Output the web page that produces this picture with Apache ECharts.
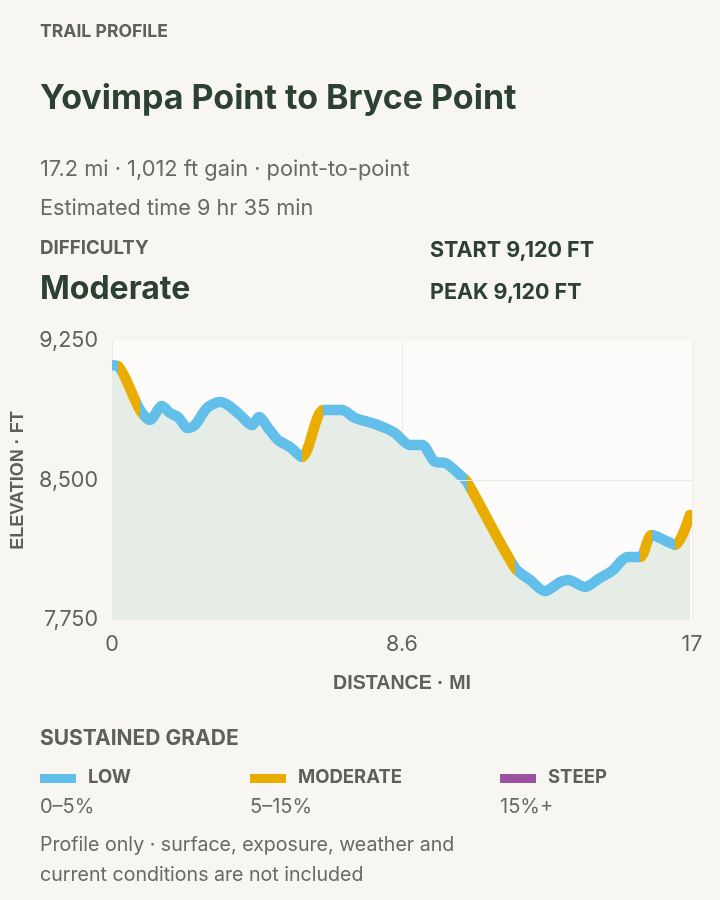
<!DOCTYPE html>
<html><head><meta charset="utf-8">
<script src="https://cdn.jsdelivr.net/npm/echarts@6/dist/echarts.min.js"></script>
<style>
body{margin:0;background:#f7f6f2;font-family:Inter,"Noto Sans",sans-serif;}
#wrap{position:relative;width:720px;height:900px;}
#chart{position:absolute;left:0;top:0;width:720px;height:900px;}
.t{position:absolute;white-space:nowrap;}
.cap{font-weight:700;color:#5d605b;font-size:18.7px;}
.g{color:#676a66;font-size:20px;}
.dk{color:#2d4133;font-weight:700;}
.sw{position:absolute;width:36px;height:9px;top:774px;}
</style></head><body><div id="wrap">
<div id="chart"></div>
<div class="t cap" style="left:40px;top:20px;font-size:17.6px">TRAIL PROFILE</div>
<div class="t dk" style="left:40px;top:76px;font-size:34px">Yovimpa Point to Bryce Point</div>
<div class="t g" style="left:40px;top:155px;font-size:21.8px">17.2 mi · 1,012 ft gain · point-to-point</div>
<div class="t g" style="left:40px;top:194px;font-size:21.7px">Estimated time 9 hr 35 min</div>
<div class="t cap" style="left:40px;top:236px">DIFFICULTY</div>
<div class="t dk" style="left:40px;top:268px;font-size:32px">Moderate</div>
<div class="t dk" style="left:430px;top:236px;font-size:21.5px">START 9,120 FT</div>
<div class="t dk" style="left:430px;top:278px;font-size:21.5px">PEAK 9,120 FT</div>
<div class="t cap" style="left:40px;top:725px;font-size:21px">SUSTAINED GRADE</div>
<div class="sw" style="left:40px;background:#62bfea"></div>
<div class="sw" style="left:250px;background:#e8ad00"></div>
<div class="sw" style="left:500px;background:#9a52a0"></div>
<div class="t cap" style="left:88px;top:765px;font-size:18.5px">LOW</div>
<div class="t cap" style="left:298px;top:765px;font-size:18.5px">MODERATE</div>
<div class="t cap" style="left:548px;top:765px;font-size:18.5px">STEEP</div>
<div class="t g" style="left:40px;top:794px">0–5%</div>
<div class="t g" style="left:250px;top:794px">5–15%</div>
<div class="t g" style="left:500px;top:794px">15%+</div>
<div class="t g" style="left:40px;top:832px;font-size:19.6px">Profile only · surface, exposure, weather and</div>
<div class="t g" style="left:40px;top:862px;font-size:19.6px">current conditions are not included</div>
</div>
<script>
const distanceMi = [0,0.18,0.83,1.13,1.48,1.72,1.96,2.25,2.46,2.82,3.20,3.44,3.80,4.15,4.36,4.63,4.92,5.28,5.63,6.26,6.55,6.82,7.21,7.71,8.10,8.39,8.84,9.19,9.58,9.88,10.32,10.53,11.95,12.40,12.84,13.29,13.52,14.03,14.47,14.83,15.30,15.66,16.01,16.49,16.70,17.14];
const elevationFt = [9120,9115,8879,8826,8901,8863,8841,8782,8798,8890,8922,8906,8852,8798,8841,8782,8718,8680,8626,8879,8879,8879,8836,8809,8782,8755,8691,8691,8600,8594,8530,8492,8030,7965,7906,7954,7965,7928,7976,8014,8089,8089,8207,8170,8153,8315];
const yTicks = [7750,8500,9250];
const gradeColors = {low:'#62bfea', moderate:'#e8ad00', steep:'#9a52a0'};

const pts = distanceMi.map((d,i)=>[d,elevationFt[i]]);
const pieces = [];
for(let i=0;i<pts.length-1;i++){
  const g = Math.abs(pts[i+1][1]-pts[i][1])/((pts[i+1][0]-pts[i][0])*5280)*100;
  const c = g>=15?gradeColors.steep:(g>=5?gradeColors.moderate:gradeColors.low);
  pieces.push({gte:pts[i][0], lt:pts[i+1][0], color:c});
}
pieces[pieces.length-1].lte = 17.2; delete pieces[pieces.length-1].lt;
const chart = echarts.init(document.getElementById('chart'));
const lab = {color:'#5f625e', fontSize:21.5, fontFamily:'Inter'};
chart.setOption({
  animation:false,
  grid:{left:112,right:28,top:341,bottom:280,show:true,backgroundColor:'#fdfcfa',borderWidth:0},
  xAxis:{type:'value',min:0,max:17.2,interval:8.6,
    axisLine:{show:false},axisTick:{show:false},
    splitLine:{show:true,lineStyle:{color:'#ecebe7'}},
    axisLabel:{...lab,margin:14,formatter:v=>v>10?String(Math.round(v)):String(v)},
    name:'DISTANCE · MI',nameLocation:'middle',nameGap:54,
    nameTextStyle:{fontSize:19.6,fontWeight:'bold',color:'#5d605b'}},
  yAxis:{type:'value',min:7750,max:9250,
    axisLine:{show:false},axisTick:{show:false},splitLine:{show:false},
    axisLabel:{...lab,margin:14,customValues:yTicks,formatter:v=>v.toLocaleString('en-US')},
    name:'ELEVATION · FT',nameLocation:'middle',nameGap:85,
    nameTextStyle:{fontSize:18,fontWeight:'bold',color:'#5d605b'}},
  visualMap:{show:false,type:'piecewise',dimension:0,seriesIndex:1,pieces:pieces},
  series:[
    {type:'line',data:pts,symbol:'none',lineStyle:{width:0},areaStyle:{color:'#e6ede6',opacity:1},
     smooth:0.3,markLine:{silent:true,symbol:'none',label:{show:false},lineStyle:{color:'#ecebe7',type:'solid',width:1},data:[{yAxis:8500}]}},
    {type:'line',data:pts,symbol:'none',smooth:0.3,lineStyle:{width:10.5,cap:'round',join:'round'}}
  ]
});
</script></body></html>
